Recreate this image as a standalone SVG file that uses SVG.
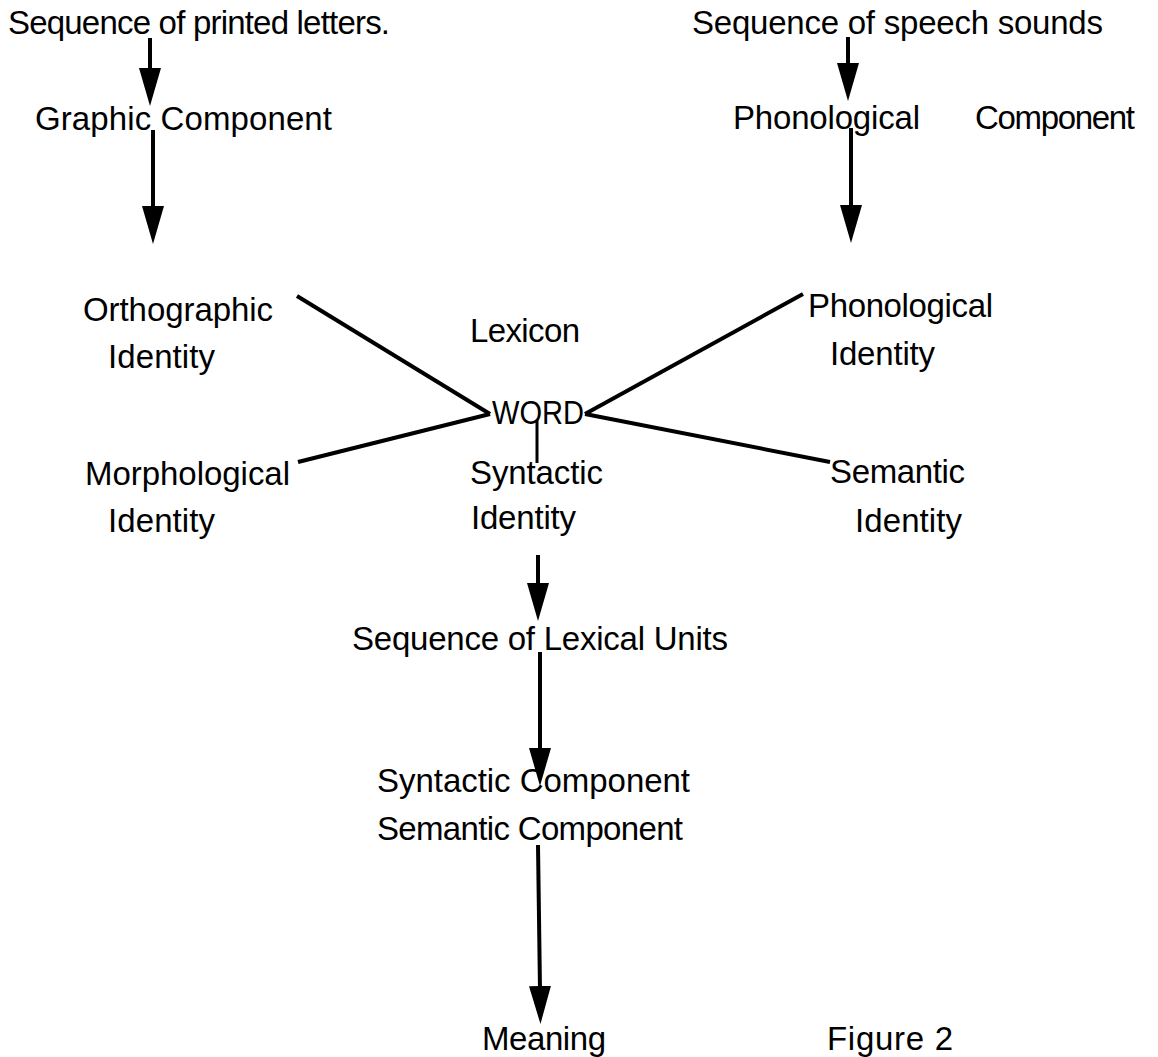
<svg xmlns="http://www.w3.org/2000/svg" width="1158" height="1057" viewBox="0 0 1158 1057">
<style>
text{font-family:"Liberation Sans",Arial,Helvetica,sans-serif;font-size:33px;fill:#000}
.c line{stroke:#000;stroke-width:4;fill:none}
.c .a{marker-end:url(#ah)}
</style>
<defs>
<marker id="ah" markerUnits="userSpaceOnUse" markerWidth="38" markerHeight="22" viewBox="0 0 38 22" refX="4" refY="11" orient="auto"><path d="M0,0 L38,11 L0,22 z" fill="#000"/></marker>
</defs>
<rect width="1158" height="1057" fill="#fff"/>
<g id="n-printed"><text x="8" y="34" textLength="382" lengthAdjust="spacing">Sequence of printed letters.</text></g>
<g id="n-speech"><text x="692" y="34" textLength="411" lengthAdjust="spacing">Sequence of speech sounds</text></g>
<g id="n-graphic"><text x="35" y="130" textLength="297" lengthAdjust="spacing">Graphic Component</text></g>
<g id="n-phoncomp"><text x="733" y="129" textLength="187" lengthAdjust="spacing">Phonological</text><text x="975" y="129" textLength="160" lengthAdjust="spacing">Component</text></g>
<g id="n-ortho"><text x="83" y="321" textLength="190" lengthAdjust="spacing">Orthographic</text><text x="108" y="368" textLength="107" lengthAdjust="spacing">Identity</text></g>
<g id="n-lexicon"><text x="470" y="342" textLength="110" lengthAdjust="spacing">Lexicon</text></g>
<g id="n-word"><text x="492" y="424" textLength="92" lengthAdjust="spacingAndGlyphs">WORD</text></g>
<g id="n-phonid"><text x="808" y="317" textLength="185" lengthAdjust="spacing">Phonological</text><text x="830" y="365" textLength="105" lengthAdjust="spacing">Identity</text></g>
<g id="n-morph"><text x="85" y="485" textLength="205" lengthAdjust="spacing">Morphological</text><text x="108" y="532" textLength="107" lengthAdjust="spacing">Identity</text></g>
<g id="n-synt"><text x="470" y="484" textLength="133" lengthAdjust="spacing">Syntactic</text><text x="471" y="529" textLength="105" lengthAdjust="spacing">Identity</text></g>
<g id="n-sem"><text x="830" y="483" textLength="135" lengthAdjust="spacing">Semantic</text><text x="855" y="532" textLength="107" lengthAdjust="spacing">Identity</text></g>
<g id="n-lexunits"><text x="352" y="650" textLength="376" lengthAdjust="spacing">Sequence of Lexical Units</text></g>
<g id="n-comps"><text x="377" y="792" textLength="313" lengthAdjust="spacing">Syntactic Component</text><text x="377" y="840" textLength="306" lengthAdjust="spacing">Semantic Component</text></g>
<g id="n-meaning"><text x="482" y="1050" textLength="124" lengthAdjust="spacing">Meaning</text></g>
<g id="n-figure"><text x="827" y="1050" textLength="126" lengthAdjust="spacing">Figure 2</text></g>
<g id="connectors" class="c">
<line class="a" x1="150" y1="38" x2="150" y2="72"/>
<line class="a" x1="153" y1="130" x2="153" y2="210"/>
<line class="a" x1="848" y1="37" x2="848" y2="67"/>
<line class="a" x1="851" y1="128" x2="851" y2="209"/>
<line x1="297" y1="296" x2="490" y2="414"/>
<line x1="298" y1="462" x2="490" y2="414"/>
<line x1="585" y1="414" x2="803" y2="294"/>
<line x1="585" y1="414" x2="830" y2="462"/>
<line x1="537" y1="420" x2="537" y2="463" style="stroke-width:3"/>
<line class="a" x1="538" y1="555" x2="538" y2="587"/>
<line class="a" x1="540" y1="652" x2="540" y2="752"/>
<line class="a" x1="538" y1="845" x2="540" y2="990"/>
</g>
</svg>
